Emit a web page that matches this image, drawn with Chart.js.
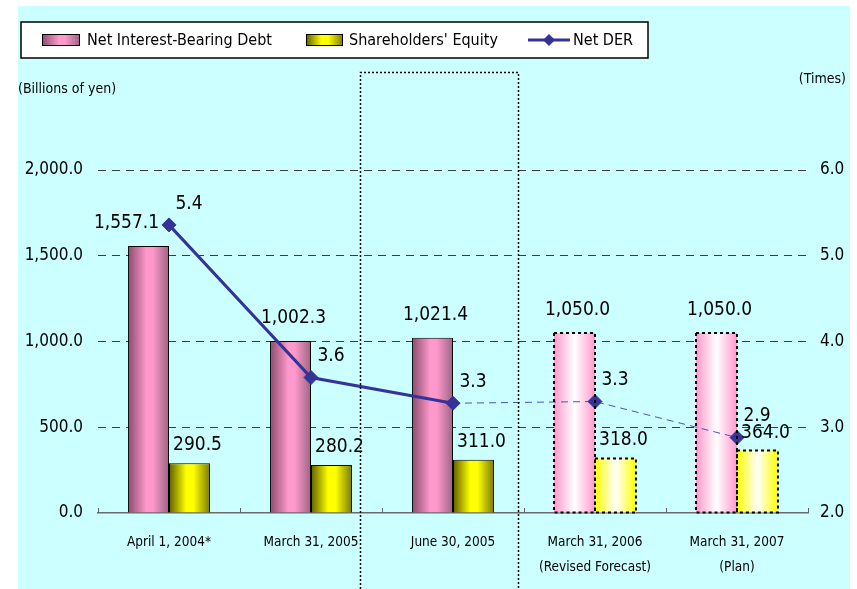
<!DOCTYPE html>
<html>
<head>
<meta charset="utf-8">
<script src="https://cdn.jsdelivr.net/npm/chart.js@4.4.1/dist/chart.umd.min.js"></script>
<style>
  html, body { margin: 0; padding: 0; background: #fff; }
  canvas { display: block; }
</style>
</head>
<body>
<canvas id="chart" width="857" height="589"></canvas>
<script>
// data
var categories = [
  ["April 1, 2004*"],
  ["March 31, 2005"],
  ["June 30, 2005"],
  ["March 31, 2006", "(Revised Forecast)"],
  ["March 31, 2007", "(Plan)"]
];
var netDebt = [1557.1, 1002.3, 1021.4, 1050.0, 1050.0];
var equity = [290.5, 280.2, 311.0, 318.0, 364.0];
var netDER = [5.36, 3.58, 3.28, 3.30, 2.88];
var isForecast = [false, false, false, true, true];
var leftTicks = [0, 500, 1000, 1500, 2000];
var rightTicks = [2, 3, 4, 5, 6];

var FONT = '"Liberation Sans Narrow", "DejaVu Sans Condensed", "Liberation Sans", sans-serif';
var GROUP_PCT = 0.577;

function fmtYen(v) {
  return v.toLocaleString('en-US', { minimumFractionDigits: 1, maximumFractionDigits: 1 });
}

function barGradient(ctx, left, width, stops) {
  var g = ctx.createLinearGradient(left, 0, left + width, 0);
  stops.forEach(function (s) { g.addColorStop(s[0], s[1]); });
  return g;
}

var pinkSolid = [[0, '#8a4c6c'], [0.45, '#ff99cc'], [0.6, '#ff99cc'], [1, '#9c6584']];
var pinkPlan = [[0, '#ff99cc'], [0.5, '#ffffff'], [1, '#ff99cc']];
var yellowSolid = [[0, '#5e5e00'], [0.42, '#ffff00'], [0.6, '#ffff00'], [1, '#7a7a00']];
var yellowPlan = [[0, '#ffff00'], [0.5, '#ffffff'], [1, '#ffff00']];

function barFill(c) {
  var chart = c.chart;
  var xs = chart.scales.x;
  var solid = c.datasetIndex === 1 ? pinkSolid : yellowSolid;
  if (c.dataIndex === undefined || !xs) return solid[1][1];
  var catW = xs.width / categories.length;
  var w = catW * GROUP_PCT / 2;
  var center = xs.getPixelForValue(c.dataIndex);
  if (!isFinite(center) || !isFinite(w) || w <= 0) return solid[1][1];
  var left = c.datasetIndex === 1 ? center - w : center;
  var stops;
  if (c.datasetIndex === 1) stops = isForecast[c.dataIndex] ? pinkPlan : pinkSolid;
  else stops = isForecast[c.dataIndex] ? yellowPlan : yellowSolid;
  return barGradient(chart.ctx, left, w, stops);
}

var backdrop = {
  id: 'backdrop',
  beforeDraw: function (chart) {
    var ctx = chart.ctx;
    ctx.save();
    ctx.fillStyle = '#ffffff';
    ctx.fillRect(0, 0, chart.width, chart.height);
    ctx.fillStyle = '#ccffff';
    ctx.fillRect(18, 6, 832, chart.height - 6);
    ctx.restore();
  }
};

var decorations = {
  id: 'decorations',
  afterDatasetsDraw: function (chart) {
    var ctx = chart.ctx;
    var xs = chart.scales.x;
    ctx.save();
    // dashed borders for forecast bars
    [1, 2].forEach(function (di) {
      chart.getDatasetMeta(di).data.forEach(function (el, i) {
        if (!isForecast[i]) return;
        var p = el.getProps(['x', 'y', 'base', 'width'], true);
        ctx.strokeStyle = '#000';
        ctx.lineWidth = 2;
        ctx.setLineDash([3, 3]);
        ctx.strokeRect(p.x - p.width / 2, p.y, p.width, p.base - p.y);
      });
    });
    ctx.setLineDash([]);
    // small boundary ticks on the x axis
    ctx.strokeStyle = '#606060';
    ctx.lineWidth = 1;
    for (var b = 0; b <= categories.length; b++) {
      var bx = Math.round(xs.getPixelForValue(b - 0.5)) + 0.5;
      ctx.beginPath();
      ctx.moveTo(bx, xs.top);
      ctx.lineTo(bx, xs.top - 5);
      ctx.stroke();
    }
    // value labels
    ctx.fillStyle = '#000';
    ctx.font = '19px ' + FONT;
    ctx.textAlign = 'center';
    ctx.textBaseline = 'middle';
    chart.getDatasetMeta(1).data.forEach(function (el, i) {
      ctx.fillText(fmtYen(netDebt[i]), el.x + (i === 0 ? -22 : 3), el.y - 23);
    });
    chart.getDatasetMeta(2).data.forEach(function (el, i) {
      ctx.fillText(fmtYen(equity[i]), el.x + 8, el.y - 18);
    });
    chart.getDatasetMeta(0).data.forEach(function (el, i) {
      ctx.fillText(netDER[i].toFixed(1), el.x + 20, el.y - 21);
    });
    ctx.restore();
  },
  afterDraw: function (chart) {
    var ctx = chart.ctx;
    var xs = chart.scales.x;
    ctx.save();
    // dotted highlight frame around the June 30, 2005 column
    var l = Math.round(xs.getPixelForValue(1.345)) + 0.5;
    var r = Math.round(xs.getPixelForValue(2.458)) + 0.5;
    ctx.strokeStyle = '#000';
    ctx.lineWidth = 1.5;
    ctx.setLineDash([2, 2]);
    ctx.beginPath();
    ctx.moveTo(l, chart.height);
    ctx.lineTo(l, 72.5);
    ctx.lineTo(r, 72.5);
    ctx.lineTo(r, chart.height);
    ctx.stroke();
    ctx.setLineDash([]);

    // axis captions
    ctx.fillStyle = '#000';
    ctx.font = '14px ' + FONT;
    ctx.textBaseline = 'middle';
    ctx.textAlign = 'left';
    ctx.fillText('(Billions of yen)', 18, 89);
    ctx.textAlign = 'right';
    ctx.fillText('(Times)', 846, 79);

    // legend
    ctx.fillStyle = '#ffffff';
    ctx.fillRect(21, 22, 627, 36);
    ctx.strokeStyle = '#000';
    ctx.lineWidth = 1.5;
    ctx.strokeRect(21, 22, 627, 36);
    var ly = 40;
    var ds = chart.data.datasets;
    ctx.lineWidth = 1;
    ctx.fillStyle = barGradient(ctx, 42, 38, pinkSolid);
    ctx.fillRect(42, ly - 6, 38, 12);
    ctx.strokeRect(42.5, ly - 5.5, 37, 11);
    ctx.fillStyle = barGradient(ctx, 306, 37, yellowSolid);
    ctx.fillRect(306, ly - 6, 37, 12);
    ctx.strokeRect(306.5, ly - 5.5, 36, 11);
    ctx.strokeStyle = '#333399';
    ctx.lineWidth = 3;
    ctx.beginPath();
    ctx.moveTo(528, ly);
    ctx.lineTo(570, ly);
    ctx.stroke();
    ctx.fillStyle = '#333399';
    ctx.beginPath();
    ctx.moveTo(549, ly - 6);
    ctx.lineTo(555, ly);
    ctx.lineTo(549, ly + 6);
    ctx.lineTo(543, ly);
    ctx.closePath();
    ctx.fill();
    ctx.fillStyle = '#000';
    ctx.font = '16px ' + FONT;
    ctx.textAlign = 'left';
    ctx.fillText(ds[1].label, 87, ly + 1);
    ctx.fillText(ds[2].label, 349, ly + 1);
    ctx.fillText(ds[0].label, 573, ly + 1);
    ctx.restore();
  }
};

new Chart(document.getElementById('chart'), {
  type: 'bar',
  data: {
    labels: categories,
    datasets: [
      {
        type: 'line',
        label: 'Net DER',
        data: netDER,
        yAxisID: 'y2',
        order: 0,
        borderColor: '#333399',
        borderWidth: 3,
        pointStyle: 'rectRot',
        pointRadius: 7,
        pointBackgroundColor: '#333399',
        pointBorderColor: '#333399',
        pointBorderWidth: 1,
        segment: {
          borderDash: function (s) { return isForecast[s.p1DataIndex] ? [7, 5] : undefined; },
          borderWidth: function (s) { return isForecast[s.p1DataIndex] ? 1 : undefined; },
          borderColor: function (s) { return isForecast[s.p1DataIndex] ? '#4a55b8' : undefined; }
        }
      },
      {
        label: 'Net Interest-Bearing Debt',
        data: netDebt,
        yAxisID: 'y',
        order: 1,
        backgroundColor: barFill,
        borderColor: '#000',
        borderWidth: function (c) { return isForecast[c.dataIndex] ? 0 : 1; },
        categoryPercentage: GROUP_PCT,
        barPercentage: 1
      },
      {
        label: "Shareholders' Equity",
        data: equity,
        yAxisID: 'y',
        order: 1,
        backgroundColor: barFill,
        borderColor: '#000',
        borderWidth: function (c) { return isForecast[c.dataIndex] ? 0 : 1; },
        categoryPercentage: GROUP_PCT,
        barPercentage: 1
      }
    ]
  },
  options: {
    responsive: false,
    animation: false,
    devicePixelRatio: 1,
    layout: { padding: { top: 170, left: 0, right: 0, bottom: 0 } },
    plugins: {
      legend: { display: false },
      tooltip: { enabled: false }
    },
    scales: {
      x: {
        grid: { display: false, drawTicks: false },
        border: { display: true, color: '#6a6a6a', width: 1.5 },
        ticks: {
          color: '#000',
          font: { family: FONT, size: 13.5, lineHeight: 1.85 },
          padding: 17,
          maxRotation: 0,
          autoSkip: false
        },
        afterFit: function (s) { s.height = 76; }
      },
      y: {
        position: 'left',
        min: leftTicks[0],
        max: leftTicks[leftTicks.length - 1],
        afterBuildTicks: function (s) { s.ticks = leftTicks.map(function (v) { return { value: v }; }); },
        grid: {
          drawTicks: false,
          color: function (c) { return c.tick && c.tick.value === 0 ? 'rgba(0,0,0,0)' : '#3c3c3c'; },
          lineWidth: 1
        },
        border: { display: false, dash: [8, 6] },
        ticks: {
          color: '#000',
          font: { family: FONT, size: 17 },
          padding: 15,
          callback: function (v) { return fmtYen(v); }
        },
        afterFit: function (s) { s.width = 98; }
      },
      y2: {
        position: 'right',
        min: rightTicks[0],
        max: rightTicks[rightTicks.length - 1],
        afterBuildTicks: function (s) { s.ticks = rightTicks.map(function (v) { return { value: v }; }); },
        grid: { drawOnChartArea: false, drawTicks: false },
        border: { display: false },
        ticks: {
          color: '#000',
          font: { family: FONT, size: 17 },
          padding: 12,
          callback: function (v) { return v.toFixed(1); }
        },
        afterFit: function (s) { s.width = 49; }
      }
    }
  },
  plugins: [backdrop, decorations]
});
</script>
</body>
</html>
